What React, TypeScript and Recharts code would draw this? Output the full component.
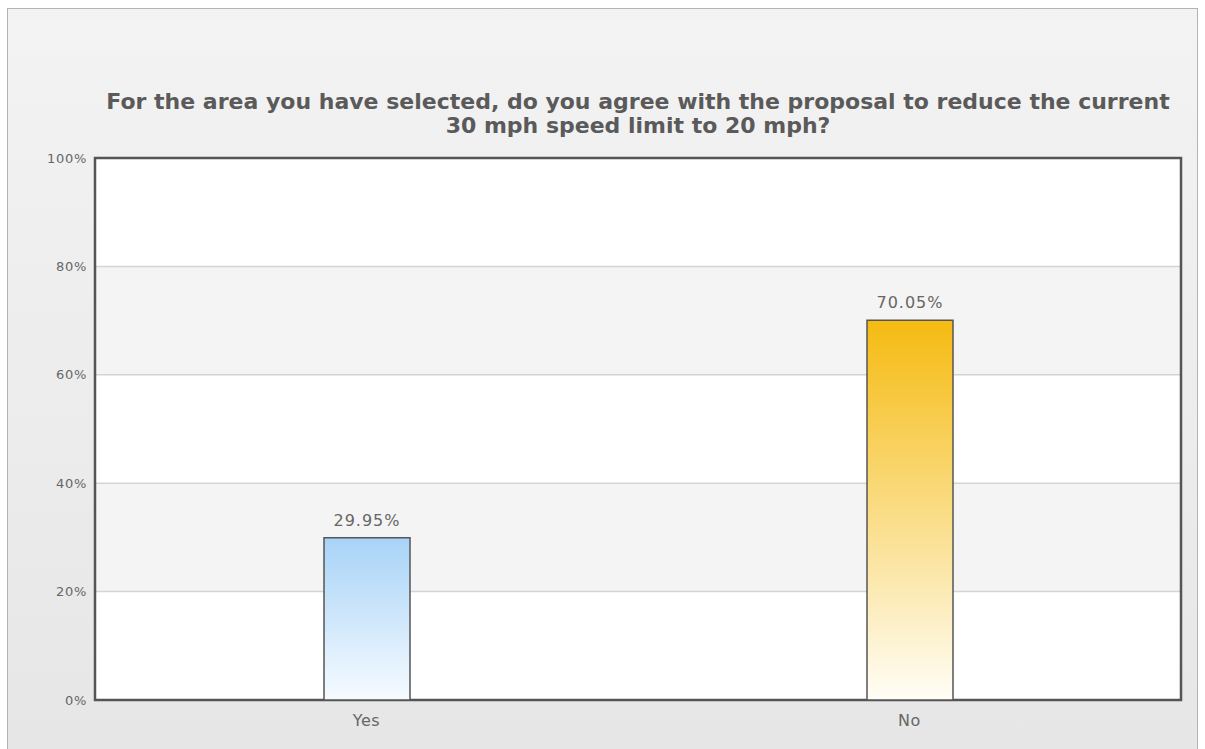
import { BarChart, Bar, XAxis, YAxis, CartesianGrid, Cell, LabelList, ReferenceArea } from "recharts";

const answers = ["Yes", "No"];
const shares = [29.95, 70.05];
const yTicks = [0, 20, 40, 60, 80, 100];
const titleLines = [
  "For the area you have selected, do you agree with the proposal to reduce the current",
  "30 mph speed limit to 20 mph?",
];

const data = answers.map((answer, i) => ({ answer, share: shares[i] }));

const FONT = "'DejaVu Sans', Verdana, sans-serif";

export default function App() {
  return (
    <div style={{ position: "absolute", left: 0, top: 0, width: 1205, height: 749, background: "#fff", overflow: "hidden", fontFamily: FONT }}>
      <div
        style={{
          position: "absolute",
          left: 7,
          top: 8,
          width: 1189,
          height: 760,
          border: "1px solid #b4b4b4",
          background: "linear-gradient(#f3f3f3, #e6e6e6)",
        }}
      />
      <div style={{ position: "absolute", left: 60, top: 90, width: 1156, textAlign: "center", color: "#5a5a5a", fontWeight: "bold", fontSize: 22, lineHeight: "24px" }}>
        {titleLines.map((l) => (
          <div key={l}>{l}</div>
        ))}
      </div>
      <div style={{ position: "absolute", left: 0, top: 0 }}>
        <BarChart width={1205} height={749} data={data} margin={{ top: 158, right: 24, bottom: 19, left: 35 }}>
          <defs>
            <linearGradient id="gradYes" x1="0" y1="0" x2="0" y2="1">
              <stop offset="0%" stopColor="#a8d3f7" />
              <stop offset="100%" stopColor="#f6fbff" />
            </linearGradient>
            <linearGradient id="gradNo" x1="0" y1="0" x2="0" y2="1">
              <stop offset="0%" stopColor="#f5bb12" />
              <stop offset="100%" stopColor="#fffdf6" />
            </linearGradient>
          </defs>
          <CartesianGrid vertical={false} stroke="#d4d4d4" strokeWidth={1.5} fill="#fff" horizontalFill={["#ffffff", "#f4f4f4"]} />
          <XAxis
            dataKey="answer"
            axisLine={false}
            tickLine={false}
            height={30}
            tick={{ fill: "#666", fontSize: 16, fontFamily: FONT, letterSpacing: 0.5 }}
            dy={7}
          />
          <YAxis
            domain={[0, 100]}
            ticks={yTicks}
            width={60}
            axisLine={false}
            tickLine={false}
            tickFormatter={(v: number) => `${v}%`}
            tick={{ fill: "#666", fontSize: 13, fontFamily: FONT, letterSpacing: 0.7 }}
            tickMargin={2}
          />
          <ReferenceArea y1={0} y2={100} fill="none" stroke="#555" strokeWidth={2.5} ifOverflow="visible" />
          <Bar dataKey="share" barSize={86} stroke="#555" strokeWidth={1.5} isAnimationActive={false}>
            {data.map((d) => (
              <Cell key={d.answer} fill={d.answer === "Yes" ? "url(#gradYes)" : "url(#gradNo)"} />
            ))}
            <LabelList
              dataKey="share"
              position="top"
              offset={12}
              formatter={(v: number) => `${v.toFixed(2)}%`}
              style={{ fill: "#666", fontSize: 16, fontFamily: FONT, letterSpacing: 1 }}
            />
          </Bar>
        </BarChart>
      </div>
    </div>
  );
}
